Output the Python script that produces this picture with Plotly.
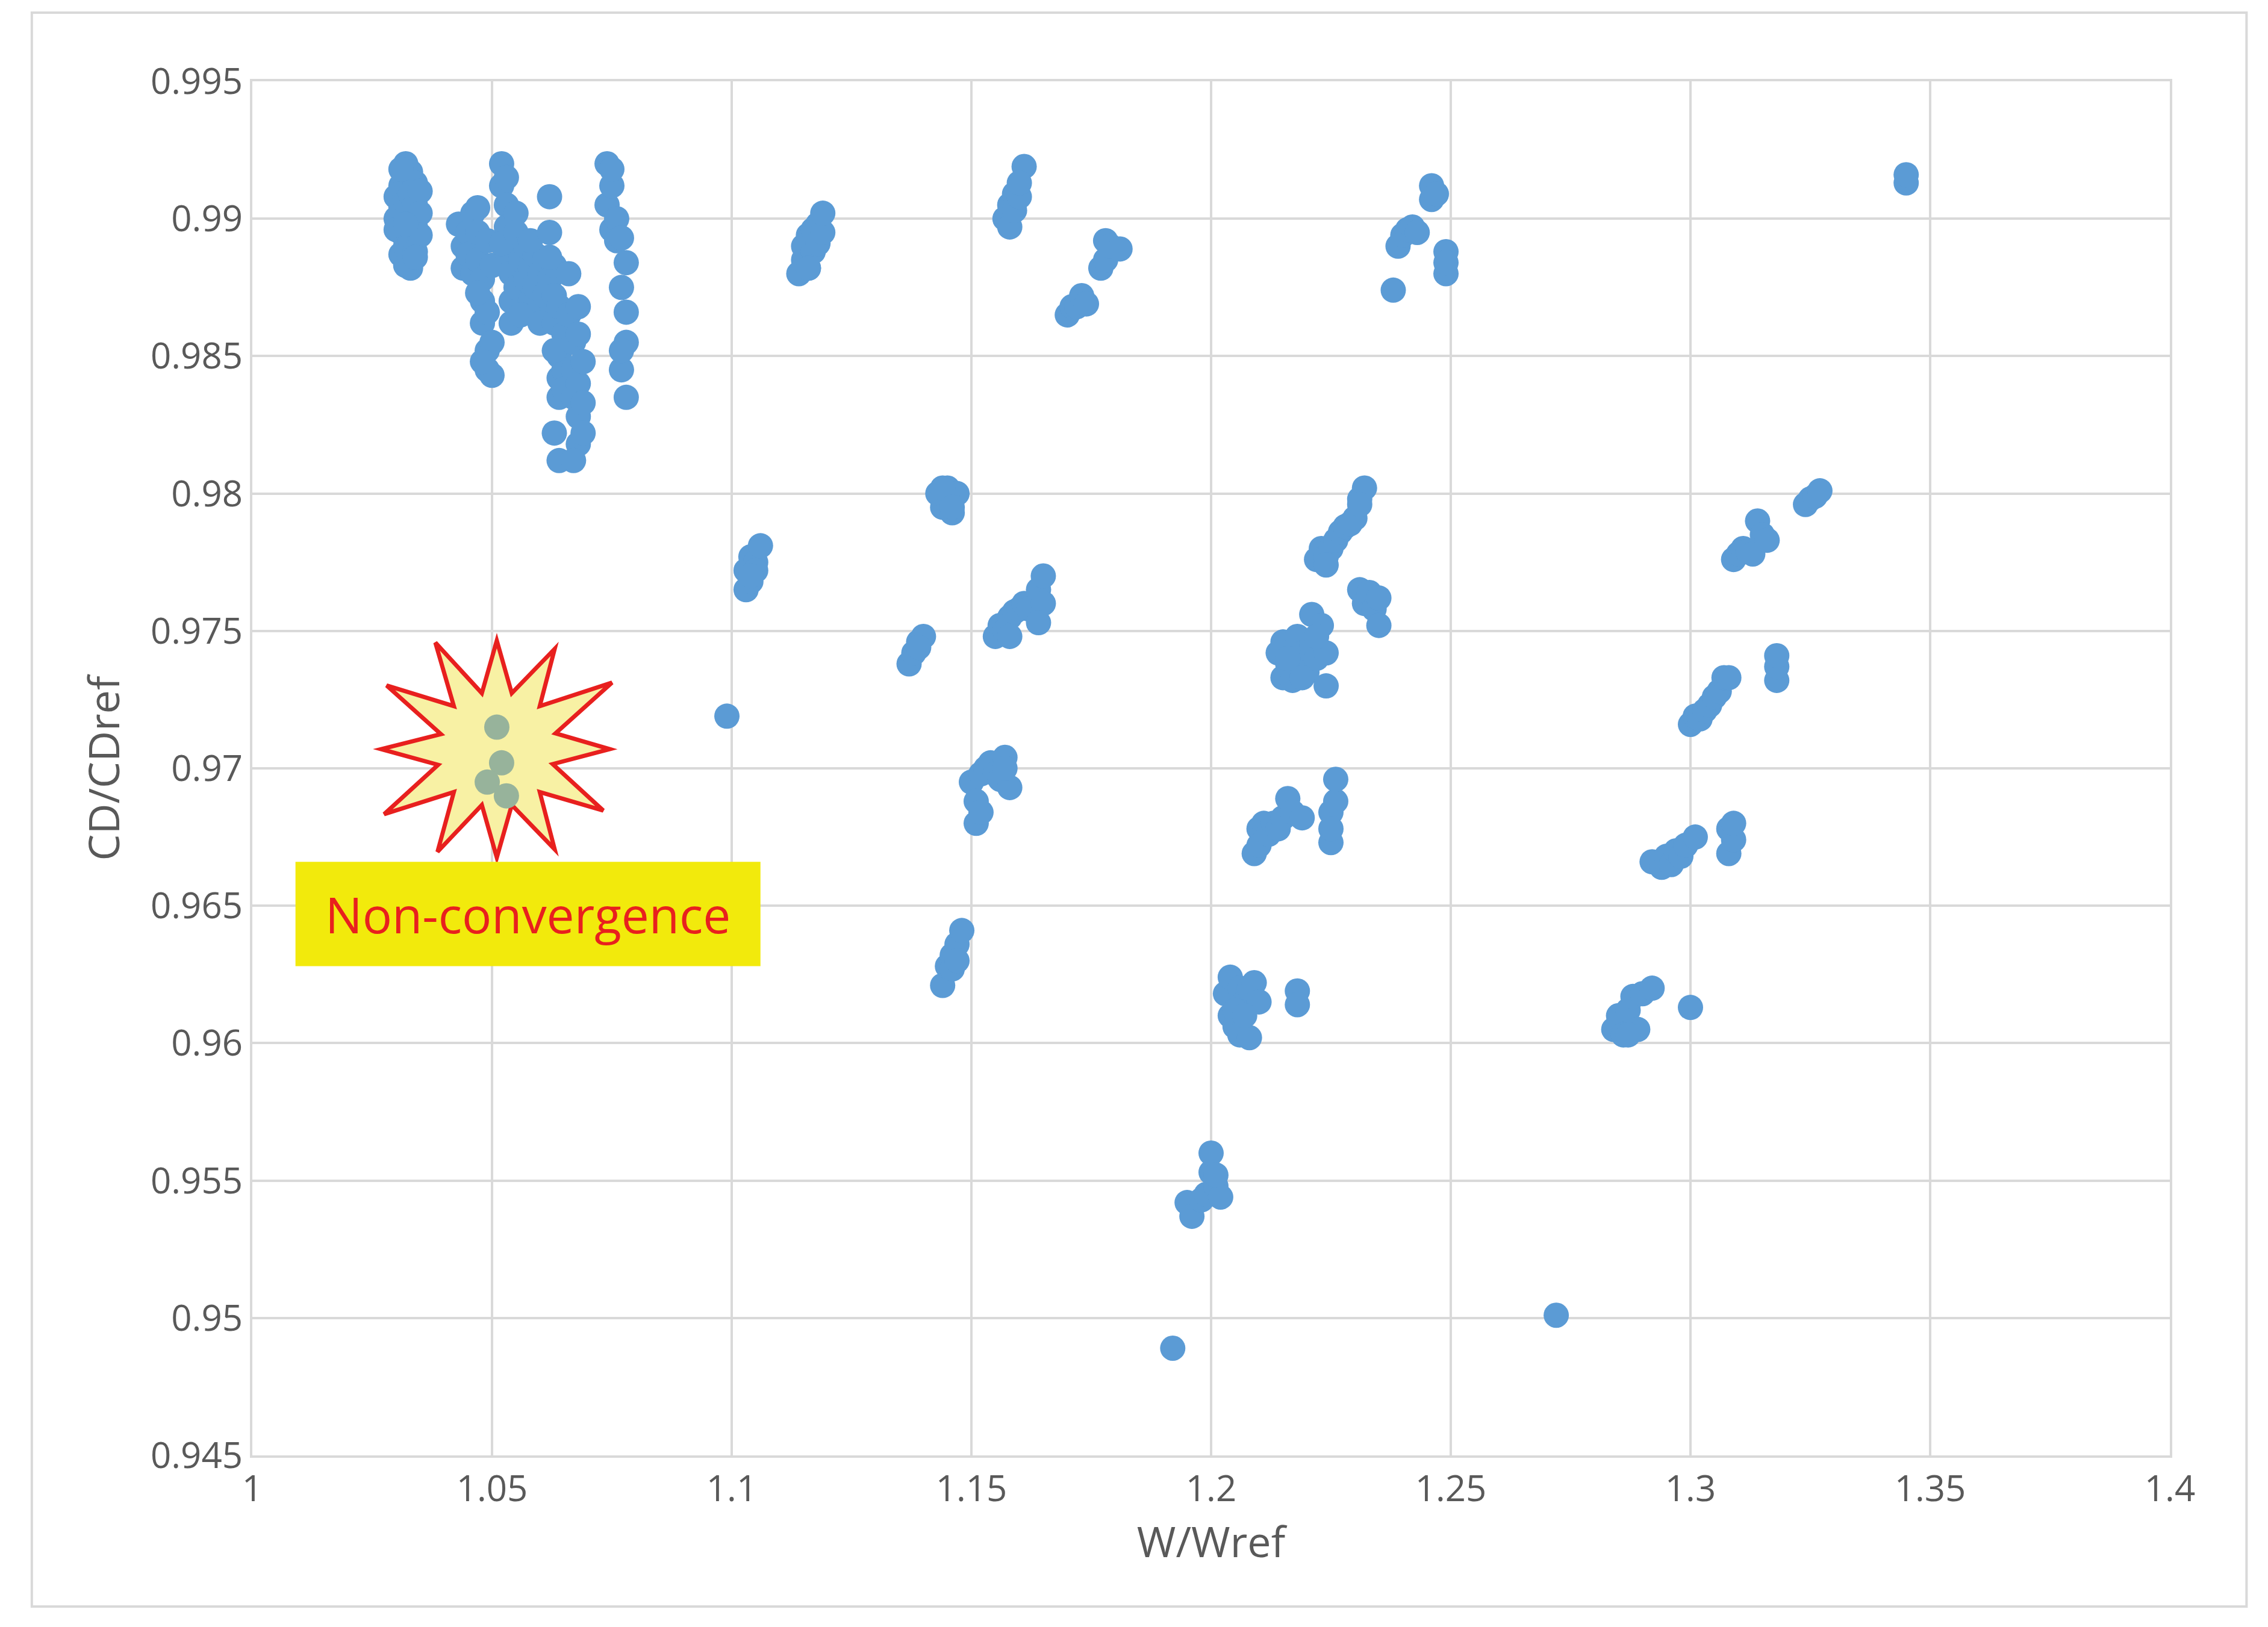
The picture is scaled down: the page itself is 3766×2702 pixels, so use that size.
import plotly.graph_objects as go
import math

# ---- data: converged designs (W/Wref, CD/CDref) ----
w_ratio = [
 1.030,1.030,1.030,1.031,1.031,1.031,1.031,1.032,1.032,1.032,1.032,1.032,1.033,1.033,1.033,1.033,1.033,1.034,1.034,1.034,1.034,1.035,1.035,1.035,1.032,1.033,1.031,1.034,
 1.043,1.044,1.044,1.045,1.045,1.046,1.046,1.047,
 1.047,1.047,1.048,1.048,1.048,1.049,1.049,1.049,1.050,1.050,1.050,1.048,1.049,1.047,
 1.052,1.052,1.053,1.053,1.053,1.054,1.054,1.054,1.055,1.055,1.053,1.052,
 1.055,1.056,1.057,1.057,1.058,1.058,1.059,1.059,1.060,1.060,1.061,1.061,1.062,1.056,1.058,1.060,
 1.062,1.062,1.063,1.063,1.063,1.064,1.064,1.064,1.065,1.065,1.063,1.064,1.062,1.064,1.065,1.063,
 1.066,1.066,1.067,1.067,1.067,1.068,1.068,1.068,1.069,1.069,1.068,1.067,1.069,1.068,
 1.074,1.074,1.075,1.075,1.076,1.075,1.076,
 1.077,1.077,1.078,1.078,1.078,1.077,1.078,1.077,
 1.099,
 1.103,1.103,1.104,1.104,1.105,1.105,1.106,1.104,
 1.114,1.115,1.115,1.116,1.116,1.117,1.117,1.118,1.118,1.119,1.119,1.116,
 1.137,1.138,1.139,1.140,1.139,
 1.143,1.144,1.145,1.146,1.147,1.145,1.144,1.146,
 1.144,1.145,1.146,1.147,1.148,1.146,1.147,
 1.150,1.151,1.151,1.152,1.153,1.154,1.155,1.156,1.157,1.158,1.152,1.157,
 1.155,1.156,1.157,1.158,1.159,1.160,1.161,1.162,1.164,1.165,1.165,1.164,1.158,
 1.157,1.158,1.158,1.159,1.159,1.160,1.161,1.160,
 1.170,1.171,1.172,1.173,1.174,
 1.177,1.178,1.178,1.179,1.181,
 1.192,
 1.195,1.196,1.198,1.199,1.200,1.200,1.201,1.202,1.201,
 1.203,1.204,1.204,1.205,1.206,1.206,1.207,1.208,1.208,1.209,1.210,1.205,1.207,
 1.218,1.218,
 1.209,1.210,1.210,1.211,1.212,1.213,1.214,1.215,1.216,1.217,1.219,
 1.225,1.225,1.226,1.226,1.225,
 1.214,1.215,1.215,1.216,1.217,1.218,1.218,1.219,1.220,1.221,1.221,1.222,1.223,1.224,1.224,1.216,1.219,1.222,
 1.222,1.223,1.224,1.225,1.226,1.227,1.228,1.229,1.230,1.231,1.232,1.231,1.224,
 1.231,1.232,1.233,1.234,1.235,1.235,
 1.238,1.239,1.240,1.241,1.242,1.243,1.246,1.246,1.247,1.249,1.249,1.249,
 1.272,
 1.284,1.285,1.286,1.287,1.288,1.289,1.290,1.292,1.287,1.300,
 1.292,1.294,1.295,1.296,1.297,1.298,1.299,1.301,
 1.300,1.301,1.302,1.303,1.304,1.305,1.306,1.307,1.308,
 1.308,1.308,1.309,1.309,
 1.309,1.310,1.311,1.312,1.313,1.314,1.315,1.316,
 1.318,1.318,1.318,
 1.324,1.325,1.326,1.327,
 1.345,1.345,
]
cd_ratio = [
 0.9900,0.9908,0.9896,0.9912,0.9904,0.9895,0.9887,0.9920,0.9914,0.9906,0.9890,0.9883,0.9917,0.9909,0.9900,0.9892,0.9885,0.9913,0.9905,0.9897,0.9888,0.9910,0.9902,0.9894,0.9898,0.9882,0.9918,0.9886,
 0.9898,0.9890,0.9882,0.9895,0.9887,0.9902,0.9880,0.9904,
 0.9895,0.9885,0.9878,0.9870,0.9862,0.9852,0.9845,0.9892,0.9843,0.9855,0.9883,0.9848,0.9866,0.9873,
 0.9920,0.9912,0.9905,0.9897,0.9888,0.9880,0.9870,0.9862,0.9875,0.9902,0.9915,0.9891,
 0.9895,0.9885,0.9878,0.9890,0.9870,0.9882,0.9887,0.9875,0.9868,0.9880,0.9885,0.9872,0.9878,0.9865,0.9892,0.9862,
 0.9908,0.9895,0.9883,0.9872,0.9862,0.9850,0.9842,0.9835,0.9858,0.9845,0.9822,0.9812,0.9886,0.9868,0.9838,0.9852,
 0.9880,0.9865,0.9855,0.9845,0.9835,0.9858,0.9840,0.9828,0.9848,0.9833,0.9818,0.9812,0.9822,0.9868,
 0.9920,0.9905,0.9896,0.9912,0.9900,0.9918,0.9892,
 0.9893,0.9875,0.9884,0.9866,0.9855,0.9845,0.9835,0.9852,
 0.9719,
 0.9772,0.9765,0.9777,0.9768,0.9775,0.9772,0.9781,0.9770,
 0.9880,0.9885,0.9890,0.9882,0.9894,0.9888,0.9896,0.9891,0.9898,0.9895,0.9902,0.9882,
 0.9738,0.9742,0.9746,0.9748,0.9744,
 0.9800,0.9795,0.9802,0.9793,0.9800,0.9798,0.9802,0.9795,
 0.9621,0.9628,0.9632,0.9636,0.9641,0.9627,0.9630,
 0.9695,0.9688,0.9680,0.9698,0.9700,0.9702,0.9698,0.9696,0.9704,0.9693,0.9684,0.9700,
 0.9748,0.9752,0.9750,0.9755,0.9757,0.9758,0.9760,0.9758,0.9765,0.9770,0.9760,0.9753,0.9748,
 0.9900,0.9897,0.9905,0.9903,0.9909,0.9908,0.9919,0.9913,
 0.9865,0.9868,0.9868,0.9872,0.9869,
 0.9882,0.9892,0.9885,0.9890,0.9889,
 0.9489,
 0.9542,0.9537,0.9543,0.9545,0.9553,0.9560,0.9548,0.9544,0.9552,
 0.9618,0.9624,0.9610,0.9606,0.9620,0.9603,0.9615,0.9620,0.9602,0.9622,0.9615,0.9612,0.9610,
 0.9619,0.9614,
 0.9669,0.9678,0.9672,0.9680,0.9676,0.9680,0.9678,0.9682,0.9689,0.9684,0.9682,
 0.9673,0.9684,0.9688,0.9696,0.9678,
 0.9742,0.9733,0.9746,0.9738,0.9732,0.9748,0.9738,0.9742,0.9735,0.9756,0.9745,0.9740,0.9752,0.9742,0.9730,0.9740,0.9733,0.9748,
 0.9776,0.9780,0.9777,0.9780,0.9783,0.9786,0.9788,0.9789,0.9791,0.9798,0.9802,0.9796,0.9774,
 0.9765,0.9760,0.9764,0.9758,0.9762,0.9752,
 0.9874,0.9890,0.9894,0.9896,0.9897,0.9895,0.9912,0.9907,0.9909,0.9880,0.9888,0.9884,
 0.9501,
 0.9605,0.9610,0.9603,0.9612,0.9617,0.9605,0.9618,0.9620,0.9603,0.9613,
 0.9666,0.9664,0.9668,0.9665,0.9670,0.9668,0.9672,0.9675,
 0.9716,0.9719,0.9718,0.9721,0.9723,0.9726,0.9728,0.9733,0.9733,
 0.9669,0.9678,0.9674,0.9680,
 0.9776,0.9778,0.9780,0.9779,0.9778,0.9790,0.9785,0.9783,
 0.9732,0.9737,0.9741,
 0.9796,0.9798,0.9799,0.9801,
 0.9913,0.9916,
]

# non-converged designs
nc_w = [1.051, 1.052, 1.049, 1.053]
nc_cd = [0.9715, 0.9702, 0.9695, 0.9690]

x_ticks = [1, 1.05, 1.1, 1.15, 1.2, 1.25, 1.3, 1.35, 1.4]
x_labels = ["1", "1.05", "1.1", "1.15", "1.2", "1.25", "1.3", "1.35", "1.4"]
y_ticks = [0.945, 0.95, 0.955, 0.96, 0.965, 0.97, 0.975, 0.98, 0.985, 0.99, 0.995]
y_labels = ["0.945", "0.95", "0.955", "0.96", "0.965", "0.97", "0.975", "0.98", "0.985", "0.99", "0.995"]

# starburst outline (centre, outer/inner radii in display px, 12 spikes)
star_center = (1.051, 0.9707)
star_outer = [75, 80, 92, 78, 85, 80, 75, 82, 90, 80, 88, 85]
star_inner = [40, 42, 42, 40, 42, 40, 40, 42, 42, 40, 42, 40]

px_x = 3315.0   # display px per W unit
px_y = 19000.0  # display px per CD unit
pts = []
n = len(star_outer)
for i in range(n):
    a_o = math.pi / 2 - 2 * math.pi * i / n
    a_i = a_o - math.pi / n
    pts.append((star_center[0] + star_outer[i] * math.cos(a_o) / px_x,
                star_center[1] + star_outer[i] * math.sin(a_o) / px_y))
    pts.append((star_center[0] + star_inner[i] * math.cos(a_i) / px_x,
                star_center[1] + star_inner[i] * math.sin(a_i) / px_y))
path = "M " + " L ".join(f"{x:.5f},{y:.6f}" for x, y in pts) + " Z"

font = "Open Sans, Lato, sans-serif"
grey = "#595959"

fig = go.Figure()
fig.add_trace(go.Scatter(x=w_ratio, y=cd_ratio, mode="markers",
                         marker=dict(color="#5B9BD5", size=42, line=dict(width=0)),
                         showlegend=False))
fig.add_shape(type="path", path=path, xref="x", yref="y", layer="between",
              fillcolor="#F8F1A4", line=dict(color="#E8201E", width=7))
fig.add_trace(go.Scatter(x=nc_w, y=nc_cd, mode="markers",
                         marker=dict(color="#97B39B", size=42, line=dict(width=0)),
                         showlegend=False))
fig.add_shape(type="rect", xref="x", yref="y", x0=1.009, x1=1.106, y0=0.9628, y1=0.9666,
              fillcolor="#F2EA0C", line=dict(width=0))
fig.add_annotation(x=1.0575, y=0.9647, xref="x", yref="y", text="Non-convergence",
                   showarrow=False, font=dict(family=font, size=82, color="#E8201E"))
# outer chart frame
fig.add_shape(type="rect", xref="paper", yref="paper", x0=-0.115, x1=1.040, y0=-0.11, y1=1.05,
              line=dict(color="#D9D9D9", width=4), fillcolor="rgba(0,0,0,0)")

fig.update_layout(
    width=3766, height=2702, paper_bgcolor="white", plot_bgcolor="white",
    margin=dict(l=411, r=171, t=127, b=293),
    font=dict(family=font, color=grey),
    xaxis=dict(range=[1, 1.4], tickvals=x_ticks, ticktext=x_labels,
               showgrid=True, gridcolor="#D9D9D9", gridwidth=4, zeroline=False,
               showline=True, linecolor="#D9D9D9", linewidth=4, mirror=True,
               tickfont=dict(size=60, color=grey), ticks="", ticklen=0,
               title=dict(text="W/Wref", font=dict(size=70, color=grey), standoff=10)),
    yaxis=dict(range=[0.945, 0.995], tickvals=y_ticks, ticktext=y_labels,
               showgrid=True, gridcolor="#D9D9D9", gridwidth=4, zeroline=False,
               showline=True, linecolor="#D9D9D9", linewidth=4, mirror=True,
               tickfont=dict(size=60, color=grey), ticks="",
               title=dict(text="CD/CDref", font=dict(size=70, color=grey), standoff=30)),
)
fig.write_html("out.html")
